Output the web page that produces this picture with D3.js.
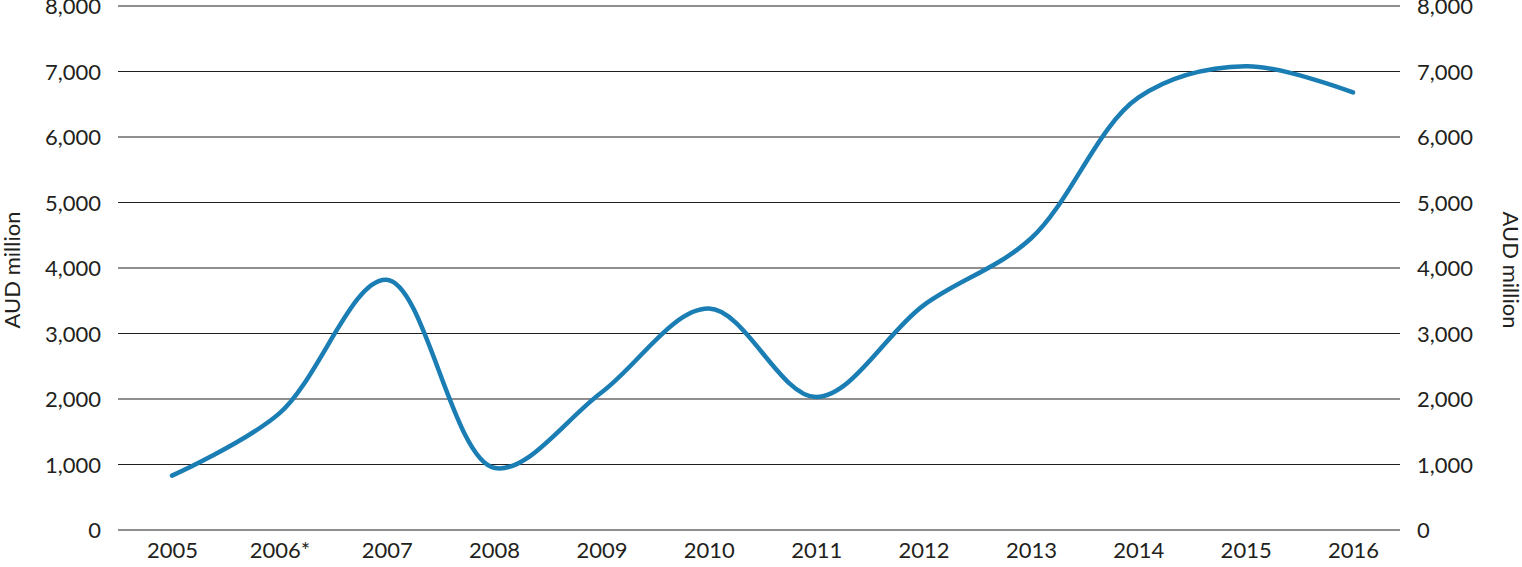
<!DOCTYPE html>
<html><head><meta charset="utf-8">
<script src="https://cdn.jsdelivr.net/npm/d3@7"></script>
<style>body{margin:0;background:#fff}text{font-family:Lato,sans-serif;fill:#231f20}</style>
</head><body>
<svg id="c" width="1522" height="567"></svg>
<script>
const years = ["2005","2006*","2007","2008","2009","2010","2011","2012","2013","2014","2015","2016"];
const values = [830,1780,3820,950,2100,3380,2030,3430,4450,6600,7080,6680];
const yTicks = [0,1000,2000,3000,4000,5000,6000,7000,8000];

const svg = d3.select("#c");
const L = 118, R = 1400, T = 6, B = 530;
const x = d3.scalePoint().domain(years).range([172, 1353]);
const y = d3.scaleLinear().domain([0,8000]).range([B, T]);
const fmt = d3.format(",");

svg.append("g").selectAll("line").data(yTicks).join("line")
  .attr("x1", L).attr("x2", R).attr("y1", d=>y(d)).attr("y2", d=>y(d))
  .attr("stroke", "#231f20").attr("stroke-width", 1.2);

const left = d3.axisLeft(y).tickValues(yTicks).tickFormat(fmt).tickSize(0).tickPadding(0);
svg.append("g").attr("transform", `translate(${L-17},0)`).call(left)
  .call(g=>g.select(".domain").remove())
  .selectAll("text").style("font-size","22px").attr("font-family","Lato").attr("dy","0.35em");
const right = d3.axisRight(y).tickValues(yTicks).tickFormat(fmt).tickSize(0).tickPadding(0);
svg.append("g").attr("transform", `translate(${R+17},0)`).call(right)
  .call(g=>g.select(".domain").remove())
  .selectAll("text").style("font-size","22px").attr("font-family","Lato").attr("dy","0.35em");
const bottom = d3.axisBottom(x).tickSize(0).tickPadding(0);
svg.append("g").attr("transform", `translate(0,${B+12})`).call(bottom)
  .call(g=>g.select(".domain").remove())
  .selectAll("text").style("font-size","22px").attr("font-family","Lato").attr("dy","0.71em");

svg.append("text").attr("transform","translate(20,270) rotate(-90)")
  .attr("text-anchor","middle").style("font-size","22px").text("AUD million");
svg.append("text").attr("transform","translate(1503,270) rotate(90)")
  .attr("text-anchor","middle").style("font-size","22px").text("AUD million");

const line = d3.line().x((d,i)=>x(years[i])).y(d=>y(d)).curve(d3.curveCatmullRom.alpha(0.5));
svg.append("path").datum(values).attr("d", line).attr("fill","none")
  .attr("stroke","#1a7db3").attr("stroke-width",4.5).attr("stroke-linecap","round");
</script>
</body></html>
